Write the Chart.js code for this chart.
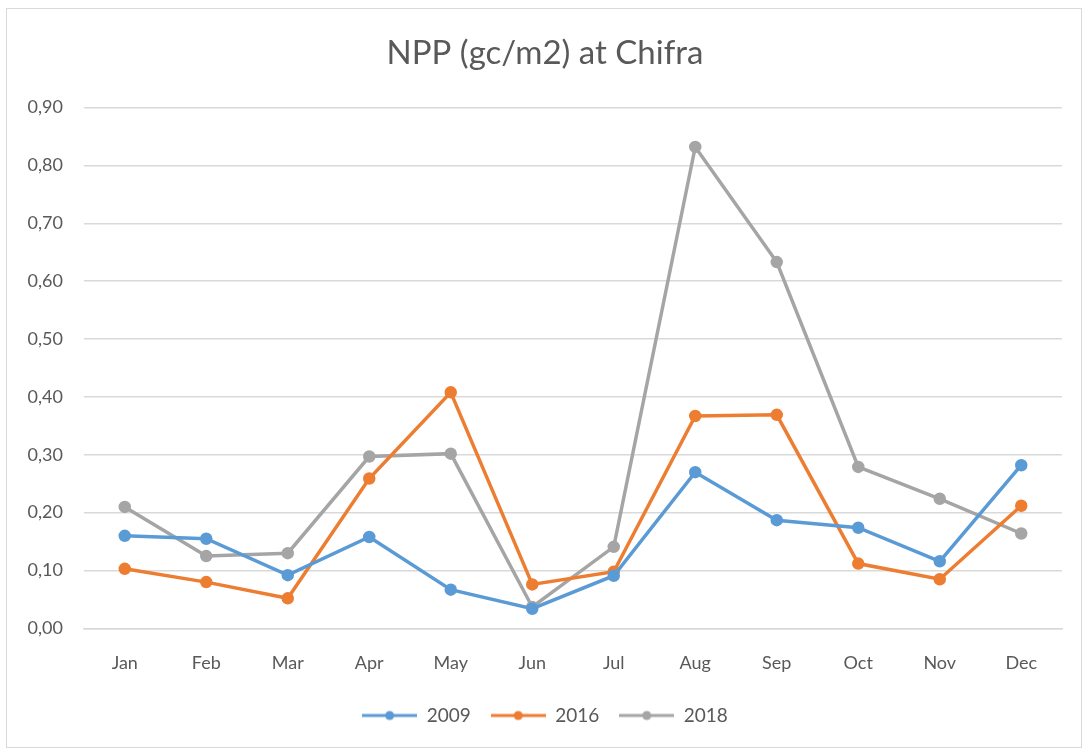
<!DOCTYPE html>
<html>
<head>
<meta charset="utf-8">
<script src="https://cdn.jsdelivr.net/npm/chart.js@4"></script>
<style>
    html, body { margin: 0; padding: 0; background: #fff; }
    #wrap { position: relative; width: 1083px; height: 749px; }
    #frame { position: absolute; left: 6px; top: 8px; width: 1074px; height: 738px; border: 1px solid #d9d9d9; pointer-events: none; }
</style>
</head>
<body>
<div id="wrap">
    <canvas id="nppChart" width="1083" height="749"></canvas>
    <div id="frame"></div>
</div>
<script>
const months = ['Jan', 'Feb', 'Mar', 'Apr', 'May', 'Jun', 'Jul', 'Aug', 'Sep', 'Oct', 'Nov', 'Dec'];
const npp2009 = [0.160, 0.155, 0.092, 0.158, 0.067, 0.034, 0.091, 0.270, 0.187, 0.174, 0.116, 0.282];
const npp2016 = [0.103, 0.080, 0.052, 0.259, 0.408, 0.076, 0.098, 0.367, 0.369, 0.112, 0.085, 0.212];
const npp2018 = [0.210, 0.125, 0.130, 0.297, 0.302, 0.037, 0.141, 0.832, 0.633, 0.279, 0.224, 0.164];
const yTicks = [0, 0.1, 0.2, 0.3, 0.4, 0.5, 0.6, 0.7, 0.8, 0.9];

const textColor = '#595959';
const fontFamily = 'Lato, "Open Sans", sans-serif';

// legend symbol: short line with a dot in the middle, like Excel
function legendIcon(color) {
    const c = document.createElement('canvas');
    c.width = 55;
    c.height = 12;
    const g = c.getContext('2d');
    g.strokeStyle = color;
    g.lineWidth = 3;
    g.beginPath();
    g.moveTo(0, 6);
    g.lineTo(55, 6);
    g.stroke();
    g.fillStyle = color;
    g.beginPath();
    g.arc(27.5, 6, 4.5, 0, Math.PI * 2);
    g.fill();
    return c;
}

function series(label, data, color) {
    return {
        label: label,
        data: data,
        borderColor: color,
        backgroundColor: color,
        pointBackgroundColor: color,
        pointBorderColor: color,
        borderWidth: 3.5,
        pointRadius: 4.5,
        pointHoverRadius: 5,
        tension: 0,
        pointStyle: 'circle',
        icon: legendIcon(color)
    };
}

const datasets = [
    series('2009', npp2009, '#5b9bd5'),
    series('2016', npp2016, '#ed7d31'),
    series('2018', npp2018, '#a5a5a5')
];

new Chart(document.getElementById('nppChart').getContext('2d'), {
    type: 'line',
    data: { labels: months, datasets: datasets },
    options: {
        responsive: false,
        animation: false,
        // left padding a bit larger so title/legend centre sits where Excel put it
        layout: { padding: { left: 28, right: 21, top: 0, bottom: 14 } },
        plugins: {
            title: {
                display: true,
                text: 'NPP (gc/m2) at Chifra',
                color: textColor,
                font: { family: fontFamily, size: 33, weight: 'normal' },
                padding: { top: 34, bottom: 34 }
            },
            legend: {
                position: 'bottom',
                labels: {
                    usePointStyle: true,
                    pointStyleWidth: 55,
                    padding: 20,
                    color: textColor,
                    font: { family: fontFamily, size: 19 },
                    generateLabels: (chart) => chart.data.datasets.map((d, i) => ({
                        text: d.label,
                        fillStyle: d.borderColor,
                        strokeStyle: d.borderColor,
                        lineWidth: 0,
                        pointStyle: d.icon,
                        fontColor: textColor,
                        datasetIndex: i
                    }))
                }
            },
            tooltip: { enabled: false }
        },
        scales: {
            x: {
                offset: true,
                grid: { display: false },
                border: { color: '#d9d9d9', width: 1.5 },
                afterFit: (scale) => { scale.height -= 4; },
                ticks: {
                    color: textColor,
                    font: { family: fontFamily, size: 18 },
                    padding: 16
                }
            },
            y: {
                min: 0,
                max: 0.9,
                afterBuildTicks: (scale) => { scale.ticks = yTicks.map(v => ({ value: v })); },
                afterFit: (scale) => { scale.width = 56; },
                grid: { color: '#d9d9d9', lineWidth: 1.5, drawTicks: false },
                border: { display: false },
                ticks: {
                    color: textColor,
                    font: { family: fontFamily, size: 18 },
                    padding: 21,
                    callback: (v) => Number(v).toFixed(2).replace('.', ',')
                }
            }
        }
    }
});
</script>
</body>
</html>
